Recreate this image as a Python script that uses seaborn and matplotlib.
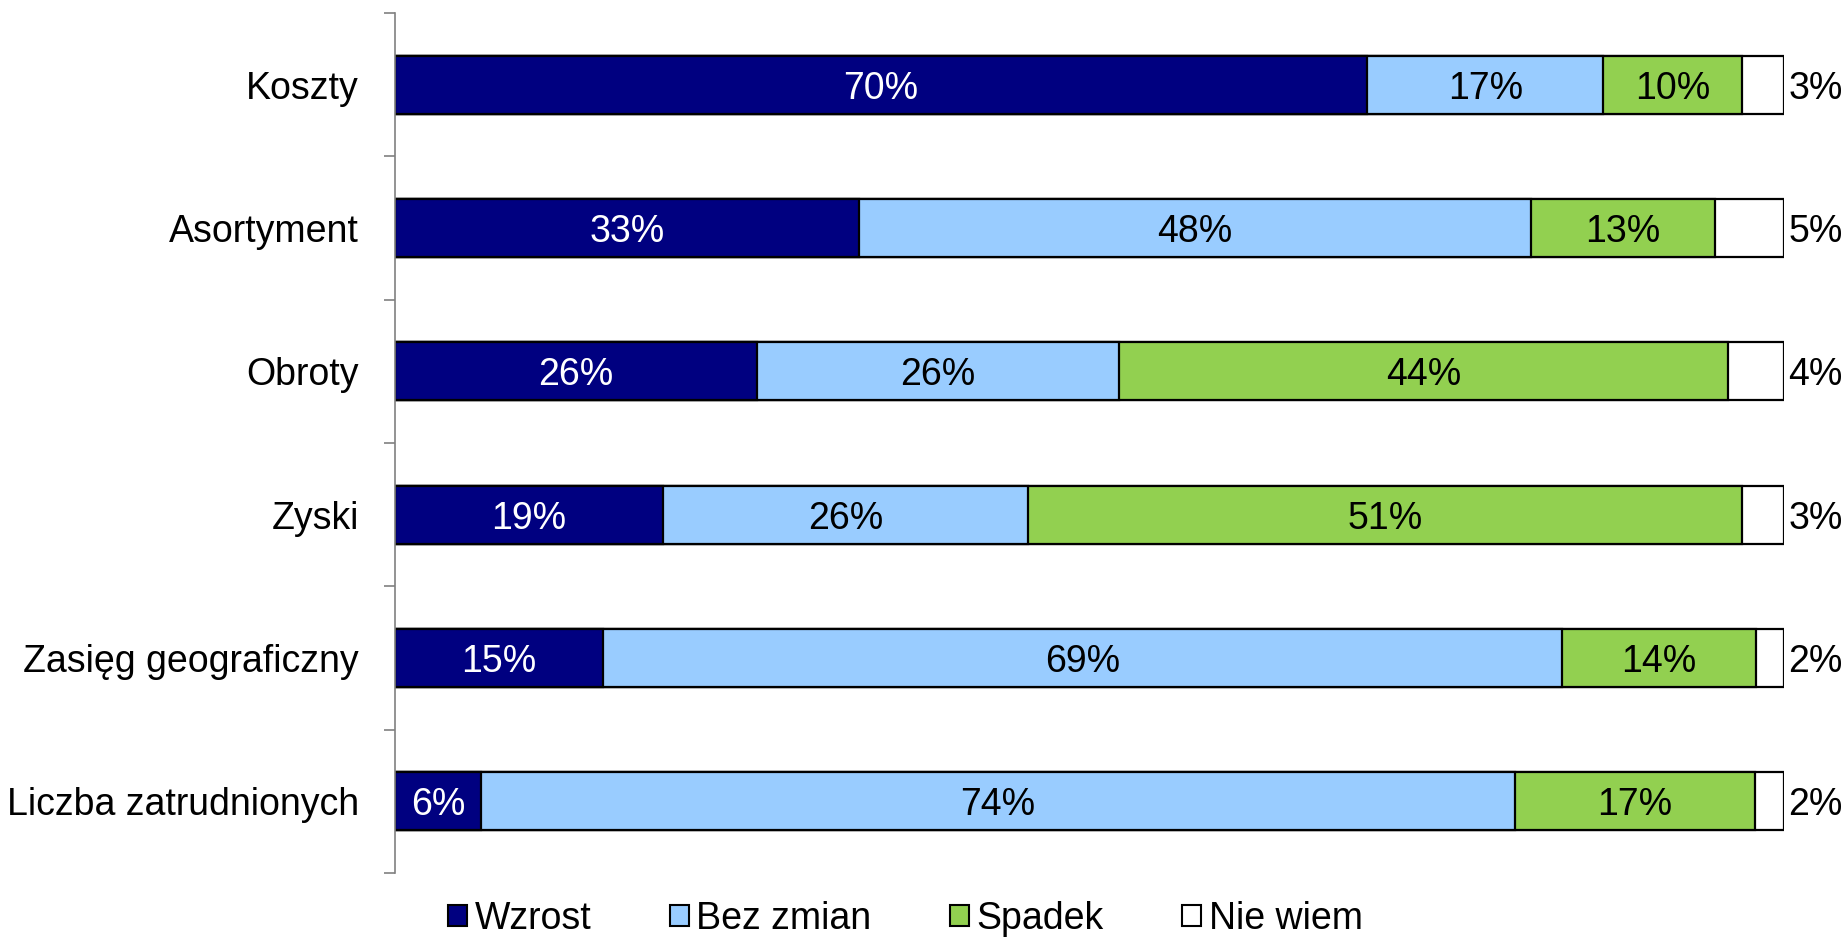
import numpy as np
import pandas as pd
import matplotlib
matplotlib.use('Agg')
import matplotlib.pyplot as plt
import seaborn as sns
from matplotlib.patches import Patch

categories = ['Koszty', 'Asortyment', 'Obroty', 'Zyski', 'Zasięg geograficzny', 'Liczba zatrudnionych']
wzrost = [70.0, 33.4, 26.1, 19.3, 15.0, 6.2]
bez_zmian = [17.0, 48.4, 26.0, 26.3, 69.0, 74.4]
spadek = [10.0, 13.2, 43.9, 51.4, 14.0, 17.3]
nie_wiem = [3.0, 5.0, 4.0, 3.0, 2.0, 2.1]

series_names = ['Wzrost', 'Bez zmian', 'Spadek', 'Nie wiem']
colors = ['#000080', '#99CCFF', '#92D050', '#FFFFFF']

df = pd.DataFrame({'Kategoria': categories, 'Wzrost': wzrost, 'Bez zmian': bez_zmian,
                   'Spadek': spadek, 'Nie wiem': nie_wiem})

sns.set_style('white')
plt.rcParams['font.family'] = ['Liberation Sans', 'DejaVu Sans']
plt.rcParams['text.color'] = 'black'
plt.rcParams['ytick.color'] = 'black'
fs = 27

fig = plt.figure(figsize=(18.48, 9.42), dpi=100)
ax = fig.add_axes([0.2137, 0.0732, 0.9654 - 0.2137, 0.9862 - 0.0732])

# stacked bars: draw cumulative totals from the largest down
cum = df[series_names].cumsum(axis=1)
for name, col in reversed(list(zip(series_names, colors))):
    sns.barplot(x=cum[name], y=df['Kategoria'], color=col, orient='h', width=0.405,
                edgecolor='black', linewidth=1.6, ax=ax, saturation=1)

# segment labels
for i, row in df.iterrows():
    left = 0
    for name, col in zip(series_names, colors):
        v = row[name]
        if name == 'Nie wiem':
            ax.annotate(f'{v:.0f}%', (100, i), xytext=(3, 0), textcoords='offset points',
                        ha='left', va='center_baseline', fontsize=fs, color='black')
        else:
            ax.text(left + v / 2, i, f'{v:.0f}%', ha='center', va='center_baseline', fontsize=fs,
                    color='white' if name == 'Wzrost' else 'black')
        left += v

ax.set_xlim(0, 100)
ax.set_ylim(5.5, -0.5)
ax.set_xlabel('')
ax.set_ylabel('')
ax.set_xticks([])
for s in ['top', 'right', 'bottom']:
    ax.spines[s].set_visible(False)
ax.spines['left'].set_color('#808080')
ax.spines['left'].set_linewidth(1.2)
ax.set_yticks(range(len(categories)))
ax.set_yticklabels(categories, fontsize=fs, color='black')
ax.set_yticks(np.arange(-0.5, len(categories), 1), minor=True)
ax.tick_params(axis='y', which='major', length=0, pad=26)
ax.tick_params(axis='y', which='minor', length=8, width=1.2, color='#808080', direction='out', left=True)

handles = [Patch(facecolor=c, edgecolor='black', linewidth=1.5) for c in colors]
fig.legend(handles, series_names, loc='lower center', bbox_to_anchor=(0.49, -0.03), ncol=4,
           frameon=False, fontsize=fs, handlelength=0.5, handleheight=0.5, handletextpad=0.2,
           columnspacing=2.1)

fig.savefig('out.png', dpi=100)
